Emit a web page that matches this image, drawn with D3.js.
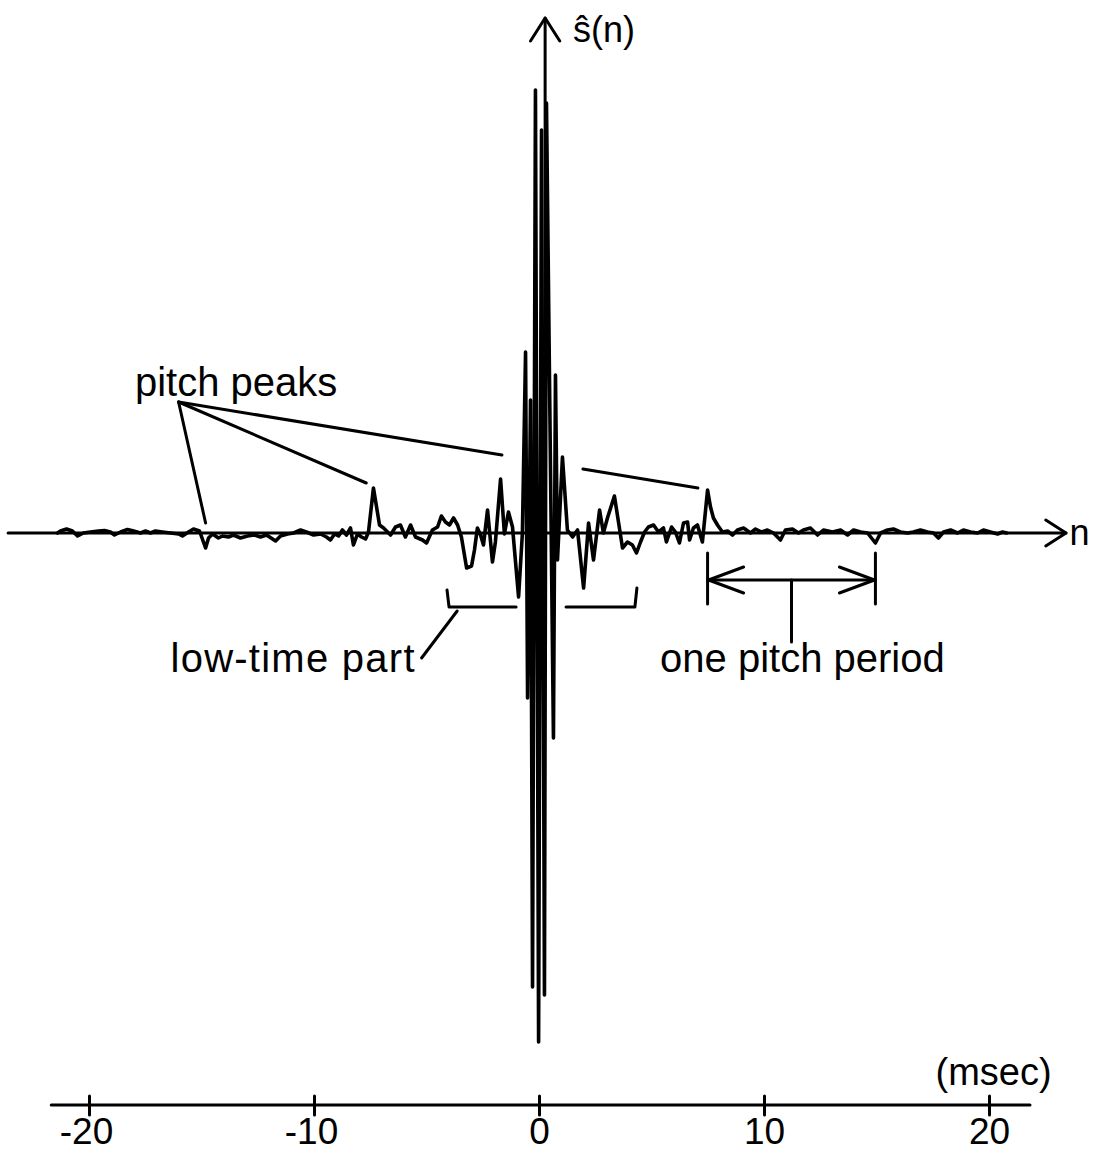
<!DOCTYPE html>
<html>
<head>
<meta charset="utf-8">
<script src="https://cdn.jsdelivr.net/npm/d3@7"></script>
<style>
  html, body { margin: 0; padding: 0; background: #fff; }
  svg { display: block; }
  text { font-family: "Liberation Sans", Arial, sans-serif; fill: #000; }
</style>
</head>
<body>
<svg id="chart" width="1097" height="1153"></svg>
<script>
// Cepstrum of a voiced speech segment, quefrency in msec.
const quefrency = [
  -21.42, -21.29, -21.02, -20.76, -20.53, -20.27, -19.96, -19.6, -19.33, -19.07,
  -18.89, -18.62, -18.31, -18.04, -17.73, -17.51, -17.29, -17.07, -16.76, -16.4,
  -16.04, -15.87, -15.6, -15.38, -15.11, -14.84, -14.71, -14.53, -14.27, -14.09,
  -13.82, -13.6, -13.29, -12.98, -12.67, -12.4, -12.13, -11.73, -11.51, -11.2,
  -10.93, -10.62, -10.36, -10.04, -9.73, -9.47, -9.29, -9.11, -8.93, -8.76,
  -8.58, -8.4, -8.27, -8.09, -7.91, -7.73, -7.6, -7.38, -7.11, -6.93,
  -6.62, -6.4, -6.18, -5.96, -5.73, -5.51, -5.2, -5.02, -4.76, -4.53,
  -4.36, -4.18, -4.0, -3.82, -3.64, -3.47, -3.24, -3.02, -2.89, -2.76,
  -2.62, -2.49, -2.31, -2.09, -1.96, -1.73, -1.56, -1.38, -1.2, -0.93,
  -0.76, -0.62, -0.53, -0.4, -0.31, -0.18, -0.04, 0.09, 0.22, 0.31,
  0.62, 0.71, 0.8, 1.02, 1.24, 1.47, 1.69, 1.96, 2.18, 2.4,
  2.67, 2.84, 3.02, 3.33, 3.51, 3.69, 3.91, 4.13, 4.31, 4.49,
  4.67, 4.84, 5.07, 5.29, 5.51, 5.64, 5.87, 6.04, 6.22, 6.4,
  6.58, 6.67, 6.84, 7.02, 7.24, 7.47, 7.6, 7.73, 7.91, 8.13,
  8.36, 8.58, 8.8, 9.07, 9.38, 9.6, 9.87, 10.13, 10.4, 10.71,
  10.93, 11.24, 11.51, 11.73, 12.04, 12.36, 12.62, 13.02, 13.38, 13.69,
  13.96, 14.27, 14.58, 14.93, 15.16, 15.47, 15.73, 16.04, 16.36, 16.62,
  16.93, 17.24, 17.51, 17.73, 17.96, 18.27, 18.58, 18.84, 19.16, 19.47,
  19.73, 20.04, 20.36, 20.58, 20.76
];
const cepstrum = [
  0, 0.02, 0.04, 0.02, -0.03, 0, 0.01, 0.02, 0.025, 0.01,
  -0.02, 0.01, 0.035, 0.02, 0, 0.02, 0, 0.02, 0.01, 0,
  -0.01, -0.03, 0.01, 0.04, 0.02, -0.15, -0.05, -0.01, -0.05, -0.03,
  -0.04, -0.02, -0.05, -0.03, -0.02, -0.04, -0.02, -0.08, -0.03, -0.01,
  0, 0.03, 0.01, -0.02, -0.01, -0.04, -0.07, -0.01, -0.03, 0.03,
  -0.02, 0.05, -0.12, -0.01, -0.04, -0.06, 0.01, 0.45, 0.08, 0.05,
  -0.02, 0.06, 0.08, -0.04, 0.08, -0.04, -0.07, -0.1, 0.03, 0.06,
  0.17, 0.11, 0.08, 0.15, 0.08, -0.04, -0.35, -0.33, -0.17, 0.05,
  -0.02, -0.12, 0.23, -0.29, -0.09, 0.54, -0.01, 0.21, 0.06, -0.64,
  0, 1.81, -1.65, 1.33, -4.54, 4.43, -5.09, 4.03, -4.62, 4.3,
  -2.05, 1.58, -0.27, 0.76, 0.03, -0.04, 0.03, -0.55, 0.1, -0.27,
  0.23, 0, 0.15, 0.37, 0.11, -0.15, -0.09, -0.12, -0.2, -0.09,
  0.01, 0.06, 0.08, 0.01, 0.05, -0.09, 0.06, 0.01, -0.1, 0.1,
  0.11, -0.07, 0.05, 0.08, -0.09, 0.43, 0.26, 0.15, 0.08, 0.01,
  0.02, -0.02, 0.03, 0.05, 0, 0.04, 0.01, 0.03, 0, -0.07,
  0.03, 0.04, 0, 0.03, 0.05, -0.02, 0.03, 0.01, 0.03, -0.02,
  0.03, 0.01, 0, -0.1, 0, 0.03, 0.04, 0.01, 0, 0.01,
  0.03, 0.01, 0, -0.05, 0.01, 0.03, 0, 0.03, 0.01, 0,
  0.03, 0.01, -0.01, 0.01, 0
];

// Bottom axis tick values (msec)
const tickValues = [-20, -10, 0, 10, 20];
const tickLabels = ["-20", "-10", "0", "10", "20"];

// Pitch-peak times used by the annotations (msec)
const pitchPeakRight = 7.47;
const secondPeakRight = 14.93;

const svg = d3.select("#chart");
const ink = "#000";

const x = d3.scaleLinear().domain([-20, 20]).range([89.5, 989.5]);
const y = d3.scaleLinear().domain([-5.2, 5.2]).range([1053, 13]);

const g = svg.append("g")
  .attr("fill", "none")
  .attr("stroke", ink)
  .attr("stroke-linecap", "round")
  .attr("stroke-linejoin", "round");

// horizontal (n) axis with arrow
g.append("line")
  .attr("x1", x(-23.62)).attr("x2", x(23.4))
  .attr("y1", y(0)).attr("y2", y(0))
  .attr("stroke-width", 3);
g.append("path")
  .attr("d", d3.line()([[x(22.5), y(0.13)], [x(23.4), y(0)], [x(22.5), y(-0.13)]]))
  .attr("stroke-width", 3);
svg.append("text")
  .attr("x", x(23.55)).attr("y", y(-0.12))
  .attr("font-size", 36).text("n");

// vertical axis with arrow
const axisT = 0.25;
g.append("line")
  .attr("x1", x(axisT)).attr("x2", x(axisT))
  .attr("y1", y(5.15)).attr("y2", y(0))
  .attr("stroke-width", 3);
g.append("path")
  .attr("d", d3.line()([[x(axisT - 0.65), y(4.92)], [x(axisT), y(5.15)], [x(axisT + 0.65), y(4.92)]]))
  .attr("stroke-width", 3);
svg.append("text")
  .attr("x", x(1.49)).attr("y", y(4.91))
  .attr("font-size", 36).text("\u015D(n)");

// cepstrum trace
const pts = quefrency.map((t, i) => [t, cepstrum[i]]);
g.append("path")
  .datum(pts)
  .attr("d", d3.line().x(d => x(d[0])).y(d => y(d[1])))
  .attr("stroke-width", 3.6);

// "pitch peaks" annotation
svg.append("text")
  .attr("x", x(-17.98)).attr("y", y(1.37))
  .attr("font-size", 40).text("pitch peaks");
const ppOrigin = [-16.04, 1.31];
const ppTargets = [[-14.84, 0.1], [-7.7, 0.5], [-1.67, 0.78]];
ppTargets.forEach(p => {
  g.append("line")
    .attr("x1", x(ppOrigin[0])).attr("y1", y(ppOrigin[1]))
    .attr("x2", x(p[0])).attr("y2", y(p[1]))
    .attr("stroke-width", 3);
});
g.append("line")
  .attr("x1", x(1.93)).attr("y1", y(0.64))
  .attr("x2", x(7.04)).attr("y2", y(0.45))
  .attr("stroke-width", 3);

// "low-time part" bracket
g.append("path")
  .attr("d", d3.line()([[x(-4.11), y(-0.57)], [x(-4.02), y(-0.74)], [x(-1.04), y(-0.74)]]))
  .attr("stroke-width", 3);
g.append("path")
  .attr("d", d3.line()([[x(1.18), y(-0.74)], [x(4.24), y(-0.74)], [x(4.33), y(-0.55)]]))
  .attr("stroke-width", 3);
g.append("line")
  .attr("x1", x(-3.66)).attr("y1", y(-0.78))
  .attr("x2", x(-5.24)).attr("y2", y(-1.25))
  .attr("stroke-width", 3);
svg.append("text")
  .attr("x", x(-16.4)).attr("y", y(-1.39))
  .attr("font-size", 40)
  .attr("textLength", 244).attr("lengthAdjust", "spacing")
  .text("low-time part");

// "one pitch period" bracket
const pL = x(pitchPeakRight), pR = x(secondPeakRight);
const pMid = (pitchPeakRight + secondPeakRight) / 2;
[pL, pR].forEach(px => {
  g.append("line")
    .attr("x1", px).attr("x2", px)
    .attr("y1", y(-0.2)).attr("y2", y(-0.71))
    .attr("stroke-width", 3);
});
g.append("line")
  .attr("x1", pL).attr("x2", pR)
  .attr("y1", y(-0.47)).attr("y2", y(-0.47))
  .attr("stroke-width", 3);
g.append("path")
  .attr("d", d3.line()([[pL + 36, y(-0.34)], [pL + 1, y(-0.47)], [pL + 36, y(-0.6)]]))
  .attr("stroke-width", 3);
g.append("path")
  .attr("d", d3.line()([[pR - 36, y(-0.34)], [pR - 1, y(-0.47)], [pR - 36, y(-0.6)]]))
  .attr("stroke-width", 3);
g.append("line")
  .attr("x1", x(pMid)).attr("x2", x(pMid))
  .attr("y1", y(-0.47)).attr("y2", y(-1.09))
  .attr("stroke-width", 3);
svg.append("text")
  .attr("x", x(5.36)).attr("y", y(-1.39))
  .attr("font-size", 40).text("one pitch period");

// bottom quefrency axis (msec)
const axisY = 1105;
const ax = svg.append("g").attr("transform", `translate(0,${axisY})`);
ax.append("line")
  .attr("x1", x(-21.7)).attr("x2", x(21.8))
  .attr("y1", 0).attr("y2", 0)
  .attr("stroke", ink).attr("stroke-width", 3).attr("stroke-linecap", "round");
ax.selectAll("line.tick")
  .data(tickValues)
  .join("line")
  .attr("class", "tick")
  .attr("x1", d => x(d)).attr("x2", d => x(d))
  .attr("y1", -9).attr("y2", 10)
  .attr("stroke", ink).attr("stroke-width", 3).attr("stroke-linecap", "round");
ax.selectAll("text.lbl")
  .data(tickValues)
  .join("text")
  .attr("class", "lbl")
  .attr("x", d => x(d) - (d < 0 ? 3 : 0))
  .attr("y", 39)
  .attr("text-anchor", "middle")
  .attr("font-size", 37)
  .text((d, i) => tickLabels[i]);
ax.append("text")
  .attr("x", x(17.6)).attr("y", -20)
  .attr("font-size", 38)
  .text("(msec)");
</script>
</body>
</html>
